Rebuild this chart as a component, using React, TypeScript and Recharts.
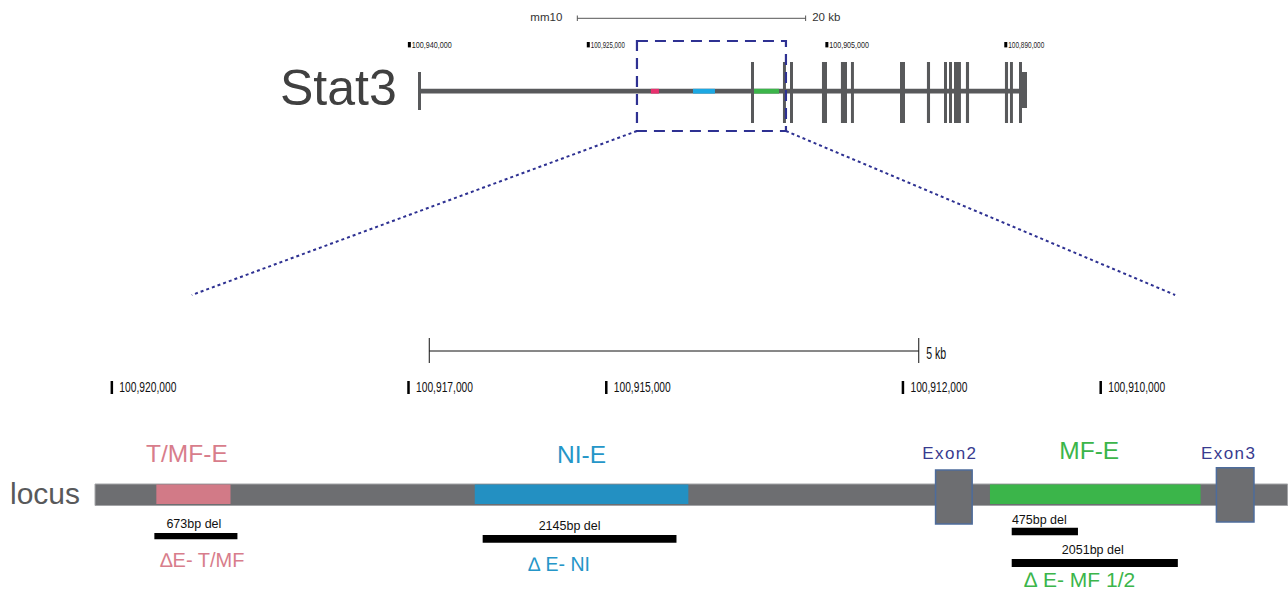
import { ComposedChart, XAxis, YAxis, ReferenceArea, ReferenceLine, Scatter } from 'recharts'

// mm10 chr11 coordinates. Stat3 sits on the minus strand, so both axes run high -> low.
const topTicks = [100940000, 100925000, 100905000, 100890000]
const topTickLabels = ['100,940,000', '100,925,000', '100,905,000', '100,890,000']
const zoomTicks = [100920000, 100917000, 100915000, 100912000, 100910000]
const zoomTickLabels = ['100,920,000', '100,917,000', '100,915,000', '100,912,000', '100,910,000']

const geneSpan = [100939150, 100888220]
const geneExons = [
  [100911360, 100911110],
  [100908680, 100908430],
  [100908090, 100907840],
  [100905410, 100904990],
  [100903820, 100903310],
  [100902980, 100902730],
  [100898870, 100898450],
  [100896610, 100896350],
  [100895180, 100894930],
  [100894760, 100894510],
  [100894340, 100893760],
  [100893340, 100893080],
  [100890070, 100889810],
  [100889650, 100889400],
  [100888890, 100888640],
]
const lastExon = [100888640, 100888220]

const enhancerNames = ['T/MF-E', 'NI-E', 'MF-E']
const enhancersTop = [
  [100919750, 100919080],
  [100916220, 100914380],
  [100911110, 100909010],
]
const enhancersZoom = [
  [100919550, 100918800],
  [100916330, 100914170],
  [100911120, 100908990],
]

const zoomBox = [100920920, 100908430]
const fanEnds = [100958240, 100875800]

const locusSpan = [100920170, 100908110]
const exonNames = ['Exon2', 'Exon3']
const exonsZoom = [
  [100911670, 100911300],
  [100908830, 100908450],
]

const deletionLabels = ['673bp del', '2145bp del', '475bp del', '2051bp del']
const deletions = [
  [100919570, 100918730],
  [100916250, 100914290],
  [100910900, 100910230],
  [100910900, 100909220],
]
const alleleNames = ['\u2206E- T/MF', '\u2206 E- NI', '\u2206 E- MF 1/2']
const alleleDeletion = [0, 1, 3]

const scaleTop = [100925920, 100906780]
const scaleZoom = [100916790, 100911840]

const TOP_DOMAIN = [100866340, 100974320]
const ZOOM_DOMAIN = [100908106, 100921131]
const W = 1288
const H = 592
const TOP_BP_PX = (TOP_DOMAIN[1] - TOP_DOMAIN[0]) / W

const SANS = '"Liberation Sans", Arial, sans-serif'
const NARROW = '"Liberation Sans Narrow", "Liberation Sans", Arial, sans-serif'
const NAVY = '#2e3192'
const GENE = '#58595b'
const LOCUS = '#6d6e71'
const enhTopColors = ['#e8306e', '#1ca8e3', '#3cb54a']
const enhZoomColors = ['#d27a87', '#2390c2', '#3bb54a']
const enhTextColors = ['#d87d8b', '#2596c8', '#3bb54a']
const topTickWidths = [40, 34, 39.5, 36]

// per-label layout tweaks (px)
const enhLabelDx = [-6.5, 0, -6]
const enhLabelY = [462, 463, 459]
const exonLabelDx = [-4, -6.5]
const delBarY = [[533, 539.3], [535, 542.7], [527.7, 535.3], [559, 567]]
const delLabelY = [528, 529.5, 524.3, 554]
const delLabelDx = [-2, -10, -5.5, -2]
const alleleDx = [6.5, -20.5, -15]
const alleleY = [567, 570.5, 586.5]
const alleleSize = [20, 19.5, 21]

type Txt = {
  x: number
  y: number
  text: string
  dx?: number
  anchor?: 'start' | 'middle' | 'end'
  size: number
  fill: string
  family?: string
  width?: number
  spacing?: number
  mark?: number[] // tick mark: [dy top, height, width]
}

const drawText = (p: any) => {
  const d: Txt = p.payload
  return (
    <g>
      {d.mark && (
        <rect x={p.cx - d.mark[2] / 2} y={p.cy + d.mark[0]} width={d.mark[2]} height={d.mark[1]} fill="#000" />
      )}
      <text
        x={p.cx + (d.dx || 0)}
        y={p.cy}
        textAnchor={d.anchor || 'middle'}
        fontSize={d.size}
        fill={d.fill}
        fontFamily={d.family || SANS}
        letterSpacing={d.spacing}
        textLength={d.width}
        lengthAdjust={d.width ? 'spacingAndGlyphs' : undefined}
      >
        {d.text}
      </text>
    </g>
  )
}

const mid = (r: number[]) => (r[0] + r[1]) / 2

const area = (key: string, axis: string, r: number[], y1: number, y2: number, fill: string, extra: any = {}) => (
  <ReferenceArea key={key} xAxisId={axis} yAxisId="px" x1={r[0]} x2={r[1]} y1={y1} y2={y2}
    fill={fill} fillOpacity={1} stroke="none" ifOverflow="visible" {...extra} />
)

const seg = (key: string, axis: string, a: [number, number], b: [number, number], extra: any) => (
  <ReferenceLine key={key} xAxisId={axis} yAxisId="px" ifOverflow="visible"
    segment={[{ x: a[0], y: a[1] }, { x: b[0], y: b[1] }]} {...extra} />
)

export default function App() {
  const topText: Txt[] = [
    { x: geneSpan[0], y: 105, text: 'Stat3', dx: -22.8, anchor: 'end', size: 50, fill: '#404040' },
    { x: scaleTop[0], y: 21, text: 'mm10', dx: -15, anchor: 'end', size: 11.5, fill: '#333' },
    { x: scaleTop[1], y: 21, text: '20 kb', dx: 6.6, anchor: 'start', size: 11.5, fill: '#333' },
    ...topTicks.map((t, i) => ({
      x: t, y: 47.8, text: topTickLabels[i], dx: 2.5, anchor: 'start' as const, size: 9.6, fill: '#222',
      family: NARROW, width: topTickWidths[i], mark: [-5.8, 5.4, 3],
    })),
  ]

  const zoomText: Txt[] = [
    { x: locusSpan[0], y: 504, text: 'locus', dx: -15, anchor: 'end', size: 30, fill: GENE },
    { x: scaleZoom[1], y: 358.5, text: '5 kb', dx: 7.5, anchor: 'start', size: 16.5, fill: '#111', family: NARROW, width: 20 },
    ...zoomTicks.map((t, i) => ({
      x: t, y: 391.7, text: zoomTickLabels[i], dx: 7.5, anchor: 'start' as const, size: 15, fill: '#111',
      family: NARROW, width: 57, mark: [-10.7, 13, 2.5],
    })),
    ...enhancerNames.map((n, i) => ({
      x: mid(enhancersZoom[i]), y: enhLabelY[i], text: n, dx: enhLabelDx[i], size: 24.5, fill: enhTextColors[i],
    })),
    ...exonNames.map((n, i) => ({
      x: mid(exonsZoom[i]), y: 459, text: n, dx: exonLabelDx[i], size: 17, fill: '#383b8f', spacing: 1.4,
    })),
    ...deletionLabels.map((n, i) => ({
      x: mid(deletions[i]), y: delLabelY[i], text: n, dx: delLabelDx[i], size: 12.5, fill: '#111',
    })),
    ...alleleNames.map((n, i) => ({
      x: mid(deletions[alleleDeletion[i]]), y: alleleY[i], text: n, dx: alleleDx[i], size: alleleSize[i], fill: enhTextColors[i],
    })),
  ]

  const capHalf = 1.5 * TOP_BP_PX

  return (
    <div style={{ position: 'absolute', left: 0, top: 0, width: W, height: H, background: '#fff' }}>
      <ComposedChart width={W} height={H} margin={{ top: 0, right: 0, bottom: 0, left: 0 }}>
        <XAxis xAxisId="top" dataKey="x" type="number" domain={TOP_DOMAIN} reversed allowDataOverflow hide />
        <XAxis xAxisId="zoom" dataKey="x" type="number" domain={ZOOM_DOMAIN} reversed allowDataOverflow hide />
        <YAxis yAxisId="px" dataKey="y" type="number" domain={[0, H]} reversed allowDataOverflow hide />

        {/* top: gene overview */}
        {seg('sb', 'top', [scaleTop[0], 18.3], [scaleTop[1], 18.3], { stroke: '#555', strokeWidth: 1 })}
        {scaleTop.map((v, i) => seg('sbt' + i, 'top', [v, 15.5], [v, 21], { stroke: '#555', strokeWidth: 1 }))}
        {area('gene', 'top', geneSpan, 88.8, 93.6, GENE)}
        {area('cap', 'top', [geneSpan[0] + capHalf, geneSpan[0] - capHalf], 72, 110, GENE)}
        {geneExons.map((r, i) => area('ex' + i, 'top', r, 62, 123, GENE))}
        {area('last', 'top', lastExon, 72, 108, GENE)}
        {enhancersTop.map((r, i) => area('et' + i, 'top', r, 88.8, 93.6, enhTopColors[i]))}
        {area('box', 'top', zoomBox, 41, 131, 'none', { fillOpacity: 0, stroke: NAVY, strokeWidth: 2.2, strokeDasharray: '11 7' })}
        {seg('fanL', 'top', [zoomBox[0], 131], [fanEnds[0], 295], { stroke: NAVY, strokeWidth: 2, strokeDasharray: '3 3' })}
        {seg('fanR', 'top', [zoomBox[1], 131], [fanEnds[1], 295], { stroke: NAVY, strokeWidth: 2, strokeDasharray: '3 3' })}

        {/* bottom: zoomed locus */}
        {seg('zb', 'zoom', [scaleZoom[0], 351], [scaleZoom[1], 351], { stroke: '#111', strokeWidth: 1 })}
        {scaleZoom.map((v, i) => seg('zbt' + i, 'zoom', [v, 338], [v, 363], { stroke: '#111', strokeWidth: 1 }))}
        {area('locus', 'zoom', locusSpan, 484, 505.5, LOCUS, { stroke: '#a3a4a7', strokeWidth: 1 })}
        {enhancersZoom.map((r, i) => area('ez' + i, 'zoom', r, 484.5, 504, enhZoomColors[i]))}
        {exonsZoom.map((r, i) => area('xz' + i, 'zoom', r, i === 0 ? 470 : 467.7, i === 0 ? 524 : 522, LOCUS,
          { stroke: '#4d6c9c', strokeWidth: 1.5 }))}
        {deletions.map((r, i) => area('del' + i, 'zoom', r, delBarY[i][0], delBarY[i][1], '#000'))}

        <Scatter xAxisId="top" yAxisId="px" data={topText} shape={drawText} isAnimationActive={false} />
        <Scatter xAxisId="zoom" yAxisId="px" data={zoomText} shape={drawText} isAnimationActive={false} />
      </ComposedChart>
    </div>
  )
}
